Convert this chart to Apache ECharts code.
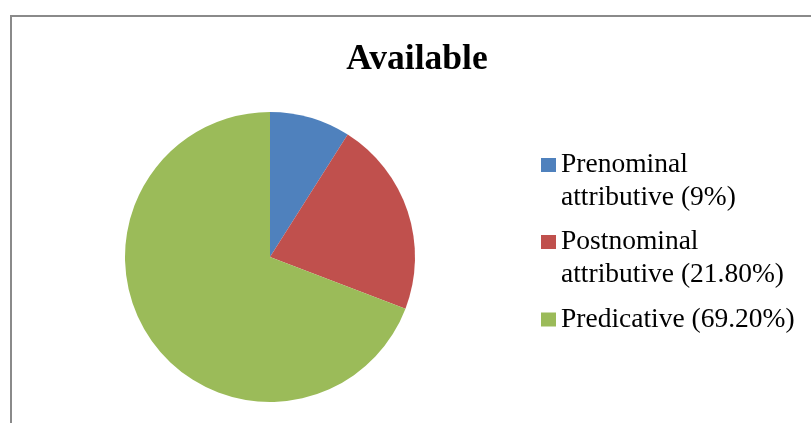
<!DOCTYPE html>
<html>
<head>
<meta charset="utf-8">
<script src="https://cdn.jsdelivr.net/npm/echarts@6/dist/echarts.min.js"></script>
<style>html,body{margin:0;padding:0;background:#fff;}#c{width:811px;height:423px;}</style>
</head>
<body>
<div id="c"></div>
<script>
var titleText = 'Available';
var categories = ['Prenominal attributive', 'Postnominal attributive', 'Predicative'];
var legendLabels = ['Prenominal\nattributive (9%)', 'Postnominal\nattributive (21.80%)', 'Predicative (69.20%)'];
var values = [9, 21.8, 69.2];
var colors = ['#4F81BD', '#C0504D', '#9BBB59'];

var font = '"Times New Roman", "Liberation Serif", serif';
var chart = echarts.init(document.getElementById('c'), null, {renderer: 'canvas'});

var legendTops = [115.5, 192.5, 303];
var legends = categories.map(function (name, i) {
  var multi = legendLabels[i].indexOf('\n') >= 0;
  return {
    data: [name],
    left: 541,
    top: legendTops[i],
    orient: 'vertical',
    itemWidth: 15,
    itemHeight: 14,
    itemGap: 0,
    padding: 0,
    icon: 'rect',
    formatter: function () { return multi ? ' \n' + legendLabels[i] : legendLabels[i]; },
    textStyle: {
      fontFamily: font,
      fontSize: 27.5,
      color: '#000',
      lineHeight: 33
    },
    itemStyle: {borderWidth: 0},
    selectedMode: false
  };
});

chart.setOption({
  animation: false,
  backgroundColor: '#fff',
  color: colors,
  title: {
    text: titleText,
    left: 412,
    top: 37,
    textAlign: 'center',
    textStyle: {fontFamily: font, fontSize: 35.5, fontWeight: 'bold', color: '#000'}
  },
  graphic: [{
    type: 'rect',
    shape: {x: 11, y: 16, width: 1000, height: 1000},
    style: {fill: 'none', stroke: '#8a8a8a', lineWidth: 2},
    silent: true
  }],
  legend: legends,
  series: [{
    type: 'pie',
    center: [270, 257],
    radius: 145,
    startAngle: 90,
    clockwise: true,
    label: {show: false},
    labelLine: {show: false},
    itemStyle: {borderWidth: 0},
    emphasis: {disabled: true},
    data: categories.map(function (c, i) { return {name: c, value: values[i]}; })
  }]
});
</script>
</body>
</html>
